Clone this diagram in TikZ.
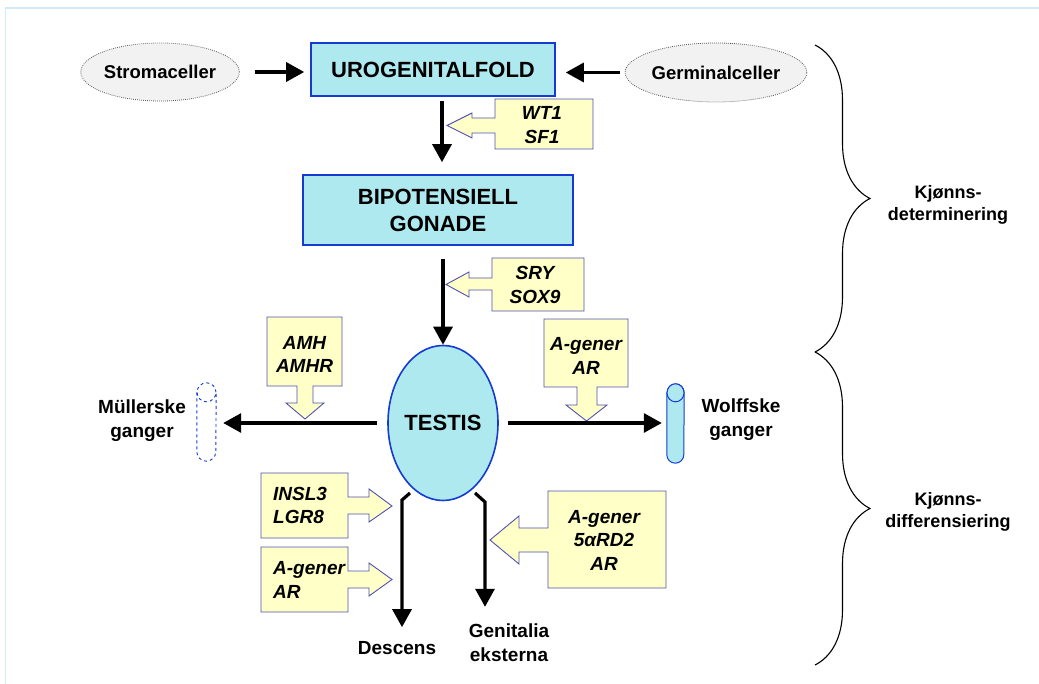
\documentclass[tikz,border=0pt]{standalone}
\usepackage{fontspec}
\setmainfont{Liberation Sans}
\usetikzlibrary{shapes.geometric,arrows.meta,decorations.pathreplacing,calc}
\definecolor{cyanfill}{RGB}{174,233,240}
\definecolor{boxblue}{RGB}{20,60,210}
\definecolor{yellowfill}{RGB}{255,255,200}
\definecolor{yellowdraw}{RGB}{80,80,180}
\definecolor{framec}{RGB}{210,235,248}
\definecolor{cellfill}{RGB}{242,242,242}
\definecolor{celldraw}{RGB}{90,90,90}
\begin{document}
\begin{tikzpicture}[x=1pt,y=-1pt,
  mainbox/.style={draw=boxblue, fill=cyanfill, line width=1.6pt, inner sep=0pt,
    font=\fontsize{22}{27}\selectfont\bfseries, align=center},
  cellell/.style={ellipse, draw=celldraw, line width=0.8pt, dash pattern=on 0.8pt off 1.2pt, fill=cellfill, inner sep=0pt,
    font=\fontsize{18.5}{22}\selectfont\bfseries},
  lbl/.style={inner sep=0pt, font=\fontsize{19}{24}\selectfont\bfseries, align=center},
  bracelbl/.style={inner sep=0pt, font=\fontsize{18}{22}\selectfont\bfseries, align=center},
  gen/.style={inner sep=0pt, font=\fontsize{19}{23.5}\selectfont\bfseries\itshape},
  callout/.style={draw=yellowdraw, fill=yellowfill, line width=0.9pt, line join=miter},
  arr/.style={line width=3.2pt, line join=miter, -{Triangle[length=18pt,width=19pt]}},
  bracestyle/.style={decorate, decoration={brace, amplitude=55pt}, line width=1.1pt},
  cylfill/.style={draw=boxblue, fill=cyanfill, line width=1pt},
  cyldash/.style={draw=boxblue, dashed, line width=0.9pt}
]
\useasboundingbox (0,0) rectangle (1039,684);
% frame
\draw[framec, line width=1.5pt] (5.5,684) -- (5.5,8) -- (1039,8);

% main nodes
\node[cellell, minimum width=135pt, minimum height=58pt] (strom) at (160,72) {Stromaceller};
\node[cellell, minimum width=158pt, minimum height=59pt] (germ) at (716,72.5) {Germinalceller};
\node[mainbox, minimum width=244pt, minimum height=53pt] (uro) at (433,69.5) {UROGENITALFOLD};
\node[mainbox, minimum width=270pt, minimum height=70pt] (bip) at (438,210) {BIPOTENSIELL\\GONADE};
\node[ellipse, draw=boxblue, fill=cyanfill, line width=1.6pt, inner sep=0pt,
  minimum width=110pt, minimum height=155pt, font=\fontsize{22}{26}\selectfont\bfseries] (testis) at (443,423) {TESTIS};

% callouts
\draw[callout] (495,99) -- (593,99) -- (593,149) -- (495,149) -- (495,133) -- (472,133) -- (472,138)
  -- (447,125.5) -- (472,113) -- (472,118) -- (495,118) -- cycle;
\node[gen, align=center] (wt1) at (542,125) {WT1\\SF1};

\draw[callout] (492,258) -- (584,258) -- (584,311) -- (492,311) -- (492,290) -- (469,290) -- (469,297)
  -- (446,284.5) -- (469,272) -- (469,278) -- (492,278) -- cycle;
\node[gen, align=center] (sry) at (535,285) {SRY\\SOX9};

\draw[callout] (267,317) -- (342,317) -- (342,386) -- (313,386) -- (313,403) -- (324,403)
  -- (305,419) -- (286,403) -- (297,403) -- (297,386) -- (267,386) -- cycle;
\node[gen, align=center] (amh) at (304.5,354.5) {AMH\\AMHR};

\draw[callout] (544,319) -- (628,319) -- (628,387) -- (597,387) -- (597,405) -- (607,405)
  -- (586.5,421) -- (566,405) -- (577,405) -- (577,387) -- (544,387) -- cycle;
\node[gen, align=center] (agtop) at (586,356) {A-gener\\AR};

\draw[callout] (261,473) -- (348,473) -- (348,497) -- (369,497) -- (369,489) -- (392,506)
  -- (369,522) -- (369,514) -- (348,514) -- (348,538) -- (261,538) -- cycle;
\node[gen, align=left, anchor=west] (insl) at (273,505.5) {INSL3\\LGR8};

\draw[callout] (261,547) -- (348,547) -- (348,571) -- (369,571) -- (369,563) -- (392,579.5)
  -- (369,596) -- (369,588) -- (348,588) -- (348,612) -- (261,612) -- cycle;
\node[gen, align=left, anchor=west] (aglow) at (273,580) {A-gener\\AR};

\draw[callout] (548,491) -- (666,491) -- (666,588) -- (548,588) -- (548,552) -- (519,552) -- (519,564)
  -- (490,540) -- (519,516) -- (519,528) -- (548,528) -- cycle;
\node[gen, align=center] (ag5) at (604,540) {A-gener\\5αRD2\\AR};

% ducts
\node[inner sep=0pt, minimum width=19pt, minimum height=78pt] (muller) at (206.5,422) {};
\draw[cyldash] ($(muller.north west)+(0,9.5)$) -- ($(muller.south west)+(0,-9.5)$)
  arc[start angle=180, end angle=360, x radius=9.5pt, y radius=9.5pt] -- ($(muller.north east)+(0,9.5)$);
\draw[cyldash] ($(muller.north)+(0,9.5)$) ellipse[x radius=9.5pt, y radius=9.5pt];

\node[inner sep=0pt, minimum width=17pt, minimum height=79pt] (wolff) at (675.5,423.5) {};
\draw[cylfill] ($(wolff.north west)+(0,9)$) -- ($(wolff.south west)+(0,-8.5)$)
  arc[start angle=180, end angle=360, x radius=8.5pt, y radius=8.5pt] -- ($(wolff.north east)+(0,9)$)
  arc[start angle=0, end angle=180, x radius=8.5pt, y radius=9pt] -- cycle;
\draw[cylfill] ($(wolff.north)+(0,9)$) ellipse[x radius=8.5pt, y radius=9pt];

% labels
\node[lbl] (mtxt) at (142,421) {Müllerske\\ganger};
\node[lbl] (wtxt) at (741,420) {Wolffske\\ganger};
\node[lbl] (descens) at (397,648) {Descens};
\node[lbl] (genit) at (509,643) {Genitalia\\eksterna};
\node[bracelbl] (kdet) at (948,205) {Kjønns-\\determinering};
\node[bracelbl] (kdiff) at (948,512) {Kjønns-\\differensiering};

% connectors
\draw[arr, shorten <=15pt, shorten >=6pt] (strom.east) -- (strom.east -| uro.west);
\draw[arr, shorten <=5pt, shorten >=10pt] (germ.west) -- (germ.west -| uro.east);
\draw[arr, shorten <=4pt, shorten >=12pt] ([xshift=9pt]uro.south) -- ([xshift=9pt]uro.south |- bip.north);
\draw[arr, shorten <=13pt] (bip.south -| testis.north) -- (testis.north);
\draw[arr, shorten <=10pt, shorten >=7pt] (testis.west) -- (testis.west -| muller.east);
\draw[arr, shorten <=9pt, shorten >=5pt] (testis.east) -- (testis.east -| wolff.west);

\coordinate (d1) at ($(testis.center)+(-33,70)$);
\coordinate (d2) at ($(testis.center)+(-41,77)$);
\draw[arr, shorten >=14pt] (d1) -- (d2) -- (d2 |- descens.north);
\coordinate (g1) at ($(testis.center)+(32,70)$);
\coordinate (g2) at ($(testis.center)+(42,79)$);
\draw[arr, shorten >=17pt] (g1) -- (g2) -- (g2 |- genit.north);

% braces
\coordinate (btop) at (815,45);
\coordinate (bmid) at (815,352);
\coordinate (bbot) at (815,665);
\draw[bracestyle] (btop) -- (bmid);
\draw[bracestyle] (bmid) -- (bbot);
\end{tikzpicture}
\end{document}
